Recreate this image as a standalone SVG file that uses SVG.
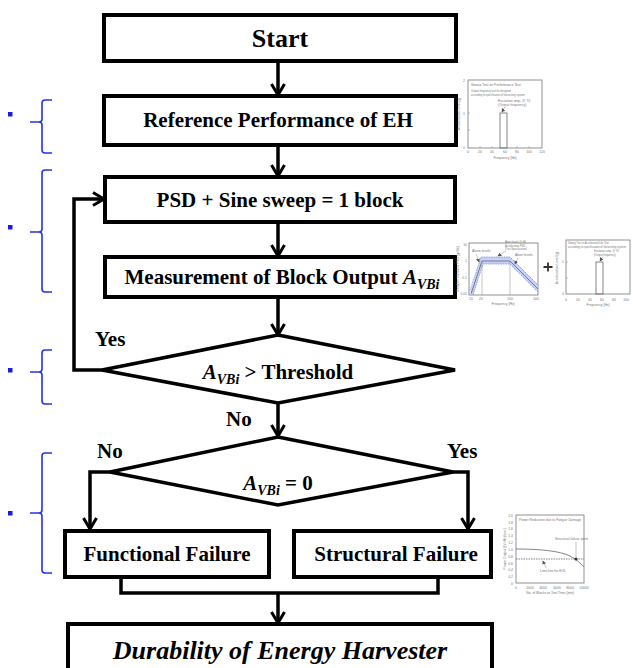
<svg xmlns="http://www.w3.org/2000/svg" width="633" height="668" viewBox="0 0 633 668">
  <style>
    .box { fill: #fff; stroke: #000; stroke-width: 4; }
    .dia { fill: #fff; stroke: #000; stroke-width: 3.5; stroke-linejoin: miter; }
    .con { fill: none; stroke: #000; stroke-width: 3.5; }
    .lbl { font-family: "Liberation Serif", "Times New Roman", serif; font-weight: bold; font-size: 21px; fill: #000; }
    .big { font-size: 26px; }
    .it { font-style: italic; }
    .brace { fill: none; stroke: #2233e6; stroke-width: 1.6; }
    .dot { fill: #1a1ae0; }
    .ax { fill: #fff; stroke: #777; stroke-width: 0.8; }
    .pl { fill: none; stroke: #666; stroke-width: 0.8; }
    .tk { stroke: #888; stroke-width: 0.5; }
    .ct { font-family: "Liberation Sans", Arial, sans-serif; font-size: 3.4px; fill: #777; }
    .cs { font-size: 2.6px; }
  </style>
  <defs>
    <marker id="arr" markerUnits="userSpaceOnUse" viewBox="0 0 16 16" markerWidth="16" markerHeight="16" refX="13" refY="8" orient="auto">
      <path d="M2,1.5 L13,8 L2,14.5" fill="none" stroke="#000" stroke-width="3"/>
    </marker>
    <marker id="sarr" markerUnits="userSpaceOnUse" viewBox="0 0 6 6" markerWidth="4" markerHeight="4" refX="5" refY="3" orient="auto">
      <path d="M0,0 L6,3 L0,6 z" fill="#555"/>
    </marker>
  </defs>

  <rect width="633" height="668" fill="#fff"/>

  <!-- side braces with bullet marks -->
  <g id="braces">
    <rect class="dot" x="8" y="112" width="4.5" height="4.5"/>
    <path class="brace" d="M52,100 H45 Q42,100 42,103 V119 Q42,122 39,122 H30 M39,122 Q42,122 42,125 V150 Q42,153 45,153 H52"/>
    <rect class="dot" x="8" y="225" width="4.5" height="4.5"/>
    <path class="brace" d="M52,170 H45 Q42,170 42,173 V229 Q42,232 39,232 H30 M39,232 Q42,232 42,235 V289 Q42,292 45,292 H52"/>
    <rect class="dot" x="8" y="368" width="4.5" height="4.5"/>
    <path class="brace" d="M52,350 H45 Q42,350 42,353 V369 Q42,372 39,372 H30 M39,372 Q42,372 42,375 V401 Q42,404 45,404 H52"/>
    <rect class="dot" x="8" y="511" width="4.5" height="4.5"/>
    <path class="brace" d="M52,453 H45 Q42,453 42,456 V510 Q42,513 39,513 H30 M39,513 Q42,513 42,516 V570 Q42,573 45,573 H52"/>
  </g>

  <!-- connectors -->
  <g id="connectors">
    <line class="con" x1="278" y1="61" x2="278" y2="95" marker-end="url(#arr)"/>
    <line class="con" x1="278" y1="145" x2="278" y2="176" marker-end="url(#arr)"/>
    <line class="con" x1="278" y1="222" x2="278" y2="256" marker-end="url(#arr)"/>
    <line class="con" x1="278" y1="297" x2="278" y2="335" marker-end="url(#arr)"/>
    <polyline class="con" points="102,370 74,370 74,199 104,199" marker-end="url(#arr)"/>
    <line class="con" x1="278" y1="403" x2="278" y2="436" marker-end="url(#arr)"/>
    <polyline class="con" points="110,472 90,472 90,529" marker-end="url(#arr)"/>
    <polyline class="con" points="453,472 468,472 468,529" marker-end="url(#arr)"/>
    <polyline class="con" points="121,577 121,593 438,593 438,577"/>
    <line class="con" x1="278" y1="593" x2="278" y2="623" marker-end="url(#arr)"/>
  </g>

  <!-- flowchart nodes -->
  <g id="start">
    <rect class="box" x="104" y="15" width="352" height="46"/>
    <text class="lbl big" x="280" y="47" text-anchor="middle">Start</text>
  </g>
  <g id="reference">
    <rect class="box" x="104" y="96" width="352" height="49"/>
    <text class="lbl" x="278" y="127" text-anchor="middle">Reference Performance of EH</text>
  </g>
  <g id="block">
    <rect class="box" x="105" y="177" width="350" height="45"/>
    <text class="lbl" x="280" y="207" text-anchor="middle">PSD + Sine sweep = 1 block</text>
  </g>
  <g id="measurement">
    <rect class="box" x="105" y="257" width="350" height="40"/>
    <text class="lbl" x="282" y="284" text-anchor="middle">Measurement of Block Output <tspan class="it">A</tspan><tspan class="it" font-size="14" dy="5">VBi</tspan></text>
  </g>
  <g id="threshold">
    <polygon class="dia" points="278,335 455,370 278,403 102,370"/>
    <text class="lbl" x="278" y="379" text-anchor="middle"><tspan class="it">A</tspan><tspan class="it" font-size="14" dy="5">VBi</tspan><tspan dy="-5"> &gt; Threshold</tspan></text>
  </g>
  <g id="zero">
    <polygon class="dia" points="278,437 453,472 278,505 110,472"/>
    <text class="lbl" x="278" y="490" text-anchor="middle"><tspan class="it">A</tspan><tspan class="it" font-size="14" dy="5">VBi</tspan><tspan dy="-5"> = 0</tspan></text>
  </g>
  <g id="functional">
    <rect class="box" x="65" y="531" width="204" height="46"/>
    <text class="lbl" x="167" y="561" text-anchor="middle">Functional Failure</text>
  </g>
  <g id="structural">
    <rect class="box" x="294" y="531" width="197" height="46"/>
    <text class="lbl" x="396" y="561" text-anchor="middle">Structural Failure</text>
  </g>
  <g id="durability">
    <rect class="box" x="68" y="624" width="424" height="50"/>
    <text class="lbl big it" x="280" y="659" text-anchor="middle">Durability of Energy Harvester</text>
  </g>

  <!-- branch labels -->
  <g id="labels">
    <text class="lbl" font-size="19" x="95" y="346">Yes</text>
    <text class="lbl" font-size="19" x="226" y="426">No</text>
    <text class="lbl" font-size="19" x="97" y="458">No</text>
    <text class="lbl" font-size="19" x="447" y="458">Yes</text>
  </g>

  <!-- sweep test plot beside the reference step -->
  <g id="plot-reference">
    <rect class="ax" x="468" y="80" width="74" height="68"/>
    <rect class="pl" x="500" y="113" width="7" height="35"/>
    <line class="tk" x1="468" y1="113" x2="470" y2="113"/>
    <line class="tk" x1="468" y1="130" x2="470" y2="130"/>
    <line class="tk" x1="480" y1="148" x2="480" y2="146"/>
    <line class="tk" x1="492" y1="148" x2="492" y2="146"/>
    <line class="tk" x1="517" y1="148" x2="517" y2="146"/>
    <line class="tk" x1="529" y1="148" x2="529" y2="146"/>
    <text class="ct" x="471" y="86">Sweep Test on Performance Test</text>
    <text class="ct cs" x="471" y="92">Output frequency test for designed</text>
    <text class="ct cs" x="471" y="95.5">according to specification of harvesting system</text>
    <text class="ct" x="498" y="102">Excitation amp. @ 70</text>
    <text class="ct" x="498" y="106">(Output frequency)</text>
    <line class="tk" x1="505" y1="107" x2="502" y2="112" marker-end="url(#sarr)"/>
    <text class="ct" x="465" y="82" text-anchor="end">2</text>
    <text class="ct" x="465" y="115" text-anchor="end">1</text>
    <text class="ct" x="465" y="149" text-anchor="end">0</text>
    <text class="ct" x="468" y="153" text-anchor="middle">0</text>
    <text class="ct" x="480" y="153" text-anchor="middle">20</text>
    <text class="ct" x="492" y="153" text-anchor="middle">40</text>
    <text class="ct" x="505" y="153" text-anchor="middle">60</text>
    <text class="ct" x="517" y="153" text-anchor="middle">80</text>
    <text class="ct" x="529" y="153" text-anchor="middle">100</text>
    <text class="ct" x="542" y="153" text-anchor="middle">120</text>
    <text class="ct" x="505" y="159" text-anchor="middle">Frequency [Hz]</text>
    <text class="ct" transform="translate(460,114) rotate(-90)" text-anchor="middle">Acceleration Level [g]</text>
  </g>

  <!-- PSD envelope plot -->
  <g id="plot-psd">
    <rect class="ax" x="469" y="243" width="69" height="52"/>
    <path d="M470,292 L481,257 L510,257 L538,285 L538,292 L510,264 L483,264 L473,295 z" fill="#b8c6f5" opacity="0.8"/>
    <path d="M470,290 L481,257 L510,257 L538,285" fill="none" stroke="#5a6fe0" stroke-width="0.6" stroke-dasharray="1.5,1"/>
    <path d="M473,295 L483,264 L510,264 L538,292" fill="none" stroke="#5a6fe0" stroke-width="0.6" stroke-dasharray="1.5,1"/>
    <path class="pl" d="M471,294 L482,261 L510,261 L538,289" stroke="#333"/>
    <line class="tk" x1="482" y1="261" x2="482" y2="295"/>
    <line class="tk" x1="510" y1="261" x2="510" y2="295"/>
    <text class="ct" x="472" y="252">Alarm levels</text>
    <line class="tk" x1="476" y1="254" x2="479" y2="262" marker-end="url(#sarr)"/>
    <text class="ct" x="515" y="256">Abort levels</text>
    <line class="tk" x1="518" y1="258" x2="515" y2="264" marker-end="url(#sarr)"/>
    <text class="ct cs" x="505" y="243">Abort levels @ 6B</text>
    <text class="ct cs" x="505" y="246.5">Acceleration PSD</text>
    <text class="ct cs" x="505" y="250">(Test Specification)</text>
    <line class="tk" x1="506" y1="251" x2="498" y2="256" marker-end="url(#sarr)"/>
    <text class="ct" x="467" y="246" text-anchor="end">10</text>
    <text class="ct" x="467" y="262" text-anchor="end">1</text>
    <text class="ct" x="467" y="279" text-anchor="end">0.1</text>
    <text class="ct" x="467" y="295" text-anchor="end">0.01</text>
    <text class="ct" x="471" y="300" text-anchor="middle">10</text>
    <text class="ct" x="481" y="300" text-anchor="middle">20</text>
    <text class="ct" x="510" y="300" text-anchor="middle">100</text>
    <text class="ct" x="536" y="300" text-anchor="middle">500</text>
    <text class="ct" x="503" y="305" text-anchor="middle">Frequency [Hz]</text>
    <text class="ct" transform="translate(459,269) rotate(-90)" text-anchor="middle">Random Vibration PSD [g²/Hz]</text>
    <!-- plus sign between the two test plots -->
    <path d="M543.5,267 H552.5 M548,262.5 V271.5" stroke="#333" stroke-width="1.8"/>
  </g>

  <!-- sweep test plot in accelerated life test -->
  <g id="plot-sweep">
    <rect class="ax" x="566" y="240" width="64" height="54"/>
    <rect class="pl" x="596" y="262" width="7" height="32"/>
    <line class="tk" x1="566" y1="262" x2="568" y2="262"/>
    <line class="tk" x1="566" y1="278" x2="568" y2="278"/>
    <text class="ct cs" x="568" y="244">Sweep Test in Accelerated Life Test</text>
    <text class="ct cs" x="568" y="247.5" textLength="58" lengthAdjust="spacingAndGlyphs">according to specification of harvesting system</text>
    <text class="ct cs" x="594" y="252">Excitation amp. @ 70</text>
    <text class="ct cs" x="594" y="255.5">(Output frequency)</text>
    <line class="tk" x1="603" y1="256.5" x2="600" y2="261" marker-end="url(#sarr)"/>
    <text class="ct" x="564" y="263" text-anchor="end">1</text>
    <text class="ct" x="564" y="295" text-anchor="end">0</text>
    <text class="ct" x="566" y="301" text-anchor="middle">0</text>
    <text class="ct" x="578" y="301" text-anchor="middle">20</text>
    <text class="ct" x="590" y="301" text-anchor="middle">40</text>
    <text class="ct" x="602" y="301" text-anchor="middle">60</text>
    <text class="ct" x="614" y="301" text-anchor="middle">80</text>
    <text class="ct" x="626" y="301" text-anchor="middle">100</text>
    <text class="ct" x="598" y="306" text-anchor="middle">Frequency [Hz]</text>
    <text class="ct" transform="translate(558,268) rotate(-90)" text-anchor="middle">Acceleration Level [g]</text>
  </g>

  <!-- power reduction plot beside the structural failure step -->
  <g id="plot-power">
    <rect class="ax" x="516" y="515" width="68" height="68"/>
    <path class="pl" d="M516,549 C540,549 560,551 570,556 C576,559 580,563 584,567" stroke="#444"/>
    <line x1="516" y1="559" x2="584" y2="559" stroke="#555" stroke-width="0.7" stroke-dasharray="1.5,1"/>
    <circle cx="576" cy="559" r="1.5" fill="#333"/>
    <line class="tk" x1="576" y1="542" x2="576" y2="558"/>
    <text class="ct" x="555" y="540">Structural failure point</text>
    <text class="ct" x="519" y="521">Power Reduction due to Fatigue Damage</text>
    <text class="ct" x="540" y="572">Limit line for EOL</text>
    <line class="tk" x1="546" y1="568" x2="543" y2="561" marker-end="url(#sarr)"/>
    <g class="ct" text-anchor="end">
      <text x="513" y="517">2.0</text>
      <text x="513" y="524">1.8</text>
      <text x="513" y="530">1.6</text>
      <text x="513" y="537">1.4</text>
      <text x="513" y="544">1.2</text>
      <text x="513" y="551">1.0</text>
      <text x="513" y="558">0.8</text>
      <text x="513" y="565">0.6</text>
      <text x="513" y="571">0.4</text>
      <text x="513" y="578">0.2</text>
      <text x="513" y="585">0</text>
    </g>
    <g class="ct" text-anchor="middle">
      <text x="516" y="589">0</text>
      <text x="530" y="589">2000</text>
      <text x="543" y="589">4000</text>
      <text x="557" y="589">6000</text>
      <text x="570" y="589">8000</text>
      <text x="584" y="589">10000</text>
      <text x="550" y="594">No. of Blocks or Test Time [min]</text>
    </g>
    <text class="ct" transform="translate(506,549) rotate(-90)" text-anchor="middle">Power Output [(V²/Hz)/cm²]</text>
  </g>
</svg>
